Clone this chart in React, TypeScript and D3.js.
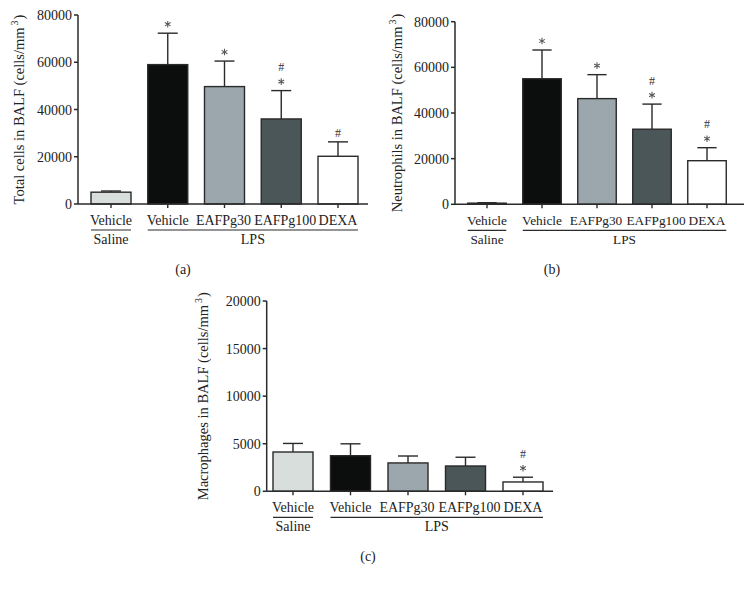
import React from "react";
import * as d3 from "d3";

const groups = ["Vehicle", "Vehicle", "EAFPg30", "EAFPg100", "DEXA"];
const groupKeys = ["Saline", "LPS-Vehicle", "EAFPg30", "EAFPg100", "DEXA"];
const barColors = ["#d7dedb", "#0b0e0d", "#9ba7ac", "#4b5659", "#ffffff"];

const totalMean = [5000, 59000, 49700, 36000, 20200];
const totalErr = [5500, 72300, 60500, 48000, 26300];
const totalMarks = [[], ["*"], ["*"], ["*", "#"], ["#"]];

const neutMean = [500, 55000, 46300, 32900, 19100];
const neutErr = [700, 67600, 56800, 43900, 24800];
const neutMarks = [[], ["*"], ["*"], ["*", "#"], ["*", "#"]];

const macMean = [4130, 3740, 2980, 2660, 980];
const macErr = [5030, 4990, 3710, 3580, 1480];
const macMarks = [[], [], [], [], ["*", "#"]];

const yTicksBig = [0, 20000, 40000, 60000, 80000];
const yTicksSmall = [0, 5000, 10000, 15000, 20000];

const FONT = "'Liberation Serif', 'Times New Roman', serif";
const labelShift = [0, 0, -1, 4, 0];

type PanelProps = {
  axisX: number; yTop: number; yBottom: number; axisEnd: number;
  c0: number; c1: number; bw: number; ymax: number; ticks: number[];
  means: number[]; errs: number[]; marks: string[][];
  ylabel: string; ylabelX: number; tag: string; tagX: number; labelSize: number;
};

function Asterisk({ cx, cy }: { cx: number; cy: number }) {
  const r = 3.3;
  const d = [0, 60, 120].map((a) => {
    const t = ((a + 90) * Math.PI) / 180;
    const dx = r * Math.cos(t), dy = r * Math.sin(t);
    return `M${cx - dx},${cy - dy}L${cx + dx},${cy + dy}`;
  }).join("");
  return <path d={d} stroke="#555" strokeWidth={1.05} fill="none" />;
}

function Panel(p: PanelProps) {
  const y = d3.scaleLinear().domain([0, p.ymax]).range([p.yBottom, p.yTop]);
  const x = d3.scalePoint<string>().domain(groupKeys).range([p.c0, p.c1]);
  const ink = "#2a2a2a";
  const lab = p.yBottom;
  const lpsL = (x("LPS-Vehicle") as number) - p.bw / 2;
  const lpsR = (x("DEXA") as number) + p.bw / 2;
  const salC = x("Saline") as number;
  return (
    <g fontFamily={FONT} fill="#222">
      {groupKeys.map((k, i) => {
        const cx = x(k) as number;
        const top = y(p.means[i]);
        const et = y(p.errs[i]);
        const ms = p.marks[i];
        return (
          <g key={k}>
            <line x1={cx} x2={cx} y1={top} y2={et} stroke={ink} strokeWidth={1.4} />
            <line x1={cx - p.bw / 4} x2={cx + p.bw / 4} y1={et} y2={et} stroke={ink} strokeWidth={1.4} />
            <rect x={cx - p.bw / 2} y={top} width={p.bw} height={p.yBottom - top}
              fill={barColors[i]} stroke={ink} strokeWidth={1.4} />
            {ms.map((m, j) => {
              const cy = et - 9 - j * 15;
              return m === "*" ? <Asterisk key={j} cx={cx} cy={cy} /> :
                <text key={j} x={cx} y={cy + 4.5} textAnchor="middle" fontSize={12} fill="#333">{m}</text>;
            })}
            <line x1={cx} x2={cx} y1={p.yBottom} y2={p.yBottom + 4} stroke={ink} strokeWidth={1.4} />
            <text x={cx + labelShift[i]} y={lab + 21} textAnchor="middle" fontSize={p.labelSize}>{groups[i]}</text>
          </g>
        );
      })}
      <line x1={p.axisX} x2={p.axisX} y1={p.yTop} y2={p.yBottom} stroke={ink} strokeWidth={1.5} />
      <line x1={p.axisX} x2={p.axisEnd} y1={p.yBottom} y2={p.yBottom} stroke={ink} strokeWidth={1.5} />
      {p.ticks.map((t) => (
        <g key={t}>
          <line x1={p.axisX - 4} x2={p.axisX} y1={y(t)} y2={y(t)} stroke={ink} strokeWidth={1.5} />
          <text x={p.axisX - 6} y={y(t) + 5} textAnchor="end" fontSize={14}>{t}</text>
        </g>
      ))}
      <line x1={salC - p.bw / 2} x2={salC + p.bw / 2} y1={lab + 26} y2={lab + 26} stroke={ink} strokeWidth={1.2} />
      <line x1={lpsL} x2={lpsR} y1={lab + 26} y2={lab + 26} stroke={ink} strokeWidth={1.2} />
      <text x={salC} y={lab + 40} textAnchor="middle" fontSize={p.labelSize}>Saline</text>
      <text x={(lpsL + lpsR) / 2} y={lab + 40} textAnchor="middle" fontSize={p.labelSize}>LPS</text>
      <text x={p.tagX} y={lab + 70} textAnchor="middle" fontSize={14}>{p.tag}</text>
      <text transform={`translate(${p.ylabelX},${(p.yTop + p.yBottom) / 2}) rotate(-90)`}
        textAnchor="middle" fontSize={14.5}>
        {p.ylabel} (cells/mm<tspan dx={2} dy={-6} fontSize={10}>3</tspan><tspan dx={1} dy={6}>)</tspan>
      </text>
    </g>
  );
}

export default function App() {
  return (
    <svg width={745} height={591} style={{ position: "absolute", left: 0, top: 0, background: "#fff" }}>
      <rect width={745} height={591} fill="#fff" />
      <Panel axisX={78} yTop={15} yBottom={204} axisEnd={368} c0={111} c1={338} bw={40}
        ymax={80000} ticks={yTicksBig} means={totalMean} errs={totalErr} marks={totalMarks}
        ylabel="Total cells in BALF" ylabelX={24} tag="(a)" tagX={183} labelSize={14} />
      <Panel axisX={455} yTop={21.7} yBottom={204.3} axisEnd={744} c0={487} c1={707} bw={38.5}
        ymax={80000} ticks={yTicksBig} means={neutMean} errs={neutErr} marks={neutMarks}
        ylabel="Neutrophils in BALF" ylabelX={402} tag="(b)" tagX={552} labelSize={13.3} />
      <Panel axisX={266.7} yTop={301} yBottom={491.3} axisEnd={553} c0={293} c1={523} bw={40}
        ymax={20000} ticks={yTicksSmall} means={macMean} errs={macErr} marks={macMarks}
        ylabel="Macrophages in BALF" ylabelX={208} tag="(c)" tagX={368} labelSize={14} />
    </svg>
  );
}
